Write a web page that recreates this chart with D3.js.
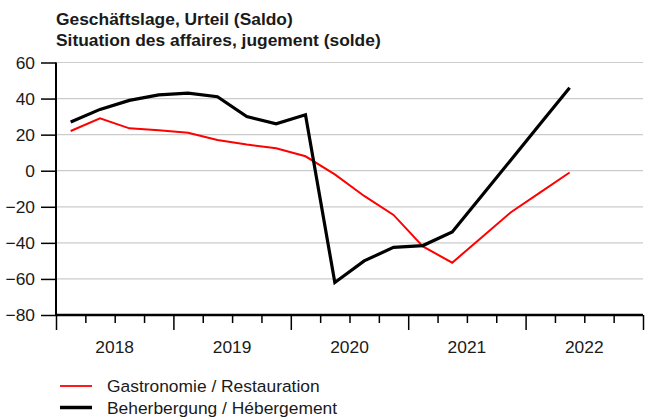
<!DOCTYPE html>
<html>
<head>
<meta charset="utf-8">
<script src="https://cdn.jsdelivr.net/npm/d3@7"></script>
<style>
  body { margin: 0; background: #fff; }
  text { font-family: "Liberation Sans", Arial, sans-serif; fill: #1a1a1a; }
</style>
</head>
<body>
<svg id="chart" width="646" height="420"></svg>
<script>
// quarterly survey, balance
const quarters = ["2018Q1","2018Q2","2018Q3","2018Q4","2019Q1","2019Q2","2019Q3","2019Q4",
                  "2020Q1","2020Q2","2020Q3","2020Q4","2021Q1","2021Q2","2021Q3","2021Q4",
                  "2022Q1","2022Q2"];
const gastro = [22, 29, 23.5, 22.5, 21, 17, 14.5, 12.5, 8, -2, -14, -24.5, -42, -51, -37, -23, -12, -1];
const hotel  = [27, 34, 39, 42, 43, 41, 30, 26, 31, -62, -50, -42.5, -41.5, -34, -14, 6, 26, 46];
const years = [2018, 2019, 2020, 2021, 2022];
const yTicks = [-80, -60, -40, -20, 0, 20, 40, 60];
const titleLines = ["Geschäftslage, Urteil (Saldo)", "Situation des affaires, jugement (solde)"];

const ctx = {
  left: 56, right: 643, top: 62.5, bottom: 315,
  RED: "#ff0000", BLACK: "#000000", GRID: "#cccccc"
};

const svg = d3.select("#chart");

// quarter "2018Q1" -> middle of the quarter as fractional year
const qPos = q => +q.slice(0, 4) + (+q.slice(5) - 0.5) / 4;

const xScale = d3.scaleLinear().domain([2018, 2023]).range([ctx.left, ctx.right]);
const yScale = d3.scaleLinear().domain([-80, 60]).range([ctx.bottom, ctx.top]);

// title
svg.append("g").selectAll("text")
   .data(titleLines)
   .enter()
   .append("text")
   .attr("x", ctx.left)
   .attr("y", (d, i) => 25 + i * 21)
   .style("font-size", "17.4px")
   .style("font-weight", "bold")
   .text(d => d);

// gridlines
svg.append("g").selectAll("line")
   .data(yTicks.filter(d => d > -80))
   .enter()
   .append("line")
   .attr("x1", ctx.left).attr("x2", ctx.right)
   .attr("y1", d => yScale(d)).attr("y2", d => yScale(d))
   .attr("stroke", ctx.GRID)
   .attr("stroke-width", 1.2);

// y axis
const yAxis = d3.axisLeft(yScale)
                .tickValues(yTicks)
                .tickSize(15)
                .tickPadding(6)
                .tickFormat(d3.format("d"));

svg.append("g")
   .attr("transform", "translate(" + ctx.left + ",0)")
   .call(yAxis)
   .call(g => g.select(".domain").attr("stroke-width", 2).attr("d", "M0," + ctx.top + "V" + ctx.bottom))
   .call(g => g.selectAll(".tick line").attr("stroke-width", 1.5))
   .call(g => g.selectAll(".tick text")
      .style("font-size", "17.4px")
      .style("font-family", "Liberation Sans, Arial, sans-serif")
      .attr("fill", "#1a1a1a")
      .text(d => d < 0 ? "\u2212" + Math.abs(d) : d));

// x axis: quarter ticks, year ticks, year labels
const quarterTicks = d3.range(2018, 2023.001, 0.25);

const xMinor = d3.axisBottom(xScale)
                 .tickValues(quarterTicks.filter(d => d % 1 !== 0))
                 .tickSize(8)
                 .tickFormat("");

const xMajor = d3.axisBottom(xScale)
                 .tickValues(d3.range(2018, 2024))
                 .tickSize(15)
                 .tickFormat("");

svg.append("g")
   .attr("transform", "translate(0," + ctx.bottom + ")")
   .call(xMinor)
   .call(g => g.select(".domain").remove())
   .call(g => g.selectAll(".tick line").attr("stroke-width", 1.5));

svg.append("g")
   .attr("transform", "translate(0," + ctx.bottom + ")")
   .call(xMajor)
   .call(g => g.select(".domain").attr("stroke-width", 2.5).attr("d", "M" + ctx.left + ",0H" + ctx.right))
   .call(g => g.selectAll(".tick line").attr("stroke-width", 1.5));

svg.append("g").selectAll("text")
   .data(years)
   .enter()
   .append("text")
   .attr("x", d => xScale(d + 0.5))
   .attr("y", 353)
   .attr("text-anchor", "middle")
   .style("font-size", "17.4px")
   .text(d => d);

// lines
const series = [
  {name: "Gastronomie / Restauration", values: gastro, color: ctx.RED, width: 2},
  {name: "Beherbergung / Hébergement", values: hotel, color: ctx.BLACK, width: 3.2}
];

const linegen = d3.line()
                  .x((d, i) => xScale(qPos(quarters[i])))
                  .y(d => yScale(d));

series.forEach(s => {
  svg.append("path")
     .datum(s.values)
     .attr("fill", "none")
     .attr("stroke", s.color)
     .attr("stroke-width", s.width)
     .attr("stroke-linejoin", "miter")
     .attr("d", linegen);
});

// legend
const legend = svg.append("g");
series.forEach((s, i) => {
  const y = 386 + i * 21.5;
  legend.append("line")
        .attr("x1", 60).attr("x2", 92)
        .attr("y1", y).attr("y2", y)
        .attr("stroke", s.color)
        .attr("stroke-width", i === 0 ? 1.8 : 3.5);
  legend.append("text")
        .attr("x", 107)
        .attr("y", y + 6)
        .style("font-size", "17.4px")
        .text(s.name);
});
</script>
</body>
</html>
